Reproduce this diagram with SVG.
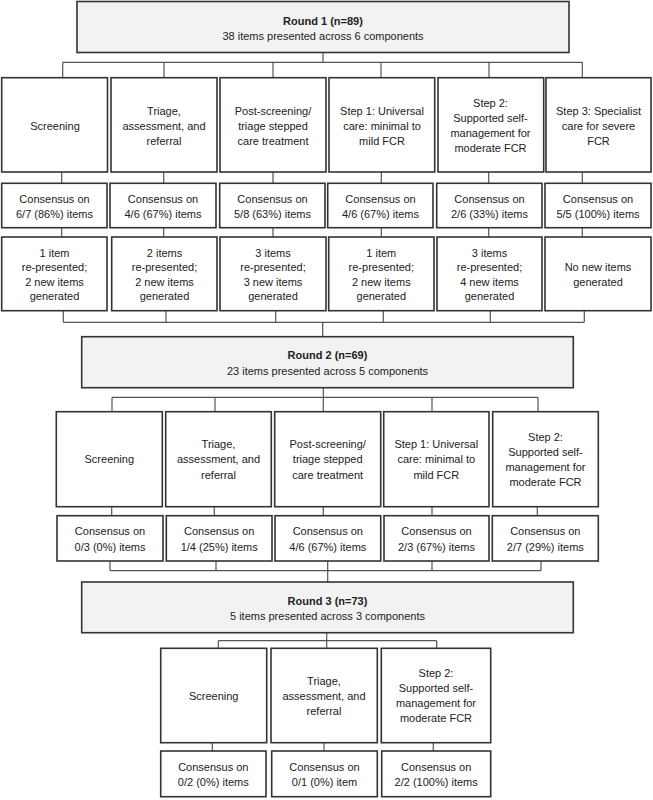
<svg xmlns="http://www.w3.org/2000/svg" width="653" height="800" viewBox="0 0 653 800">
<style>
.bx{fill:#fff;stroke:#333;stroke-width:1.6}
.hd{fill:#f2f2f2;stroke:#333;stroke-width:1.6}
.cn{fill:none;stroke:#555;stroke-width:1.2}
text{font-family:"Liberation Sans",Arial,sans-serif;font-size:11px;fill:#222;text-anchor:middle;dominant-baseline:central}
.b{font-weight:bold}
</style>
<rect width="653" height="800" fill="#fff"/>
<g id="connectors">
<path class="cn" d="M323 52.5V62.3M62.7 62.3H582.3M62.7 62.3V77.7M164 62.3V77.7M273 62.3V77.7M381 62.3V77.7M489 62.3V77.7M582.3 62.3V77.7"/>
<path class="cn" d="M61.7 172V183.3M163.7 172V183.3M273 172V183.3M381.3 172V183.3M488.7 172V183.3M582.3 172V183.3"/>
<path class="cn" d="M61.7 227.7V237M163.7 227.7V237M273 227.7V237M381.3 227.7V237M488.7 227.7V237M582.3 227.7V237"/>
<path class="cn" d="M63.3 310.7V322.3M166 310.7V322.3M275.7 310.7V322.3M383.3 310.7V322.3M490.3 310.7V322.3M584.3 310.7V322.3M63.3 322.3H584.3M322.7 322.3V336.7"/>
<path class="cn" d="M323.3 387.7V397.3M112 397.3H538M112 397.3V411.7M215 397.3V411.7M323.3 397.3V411.7M432 397.3V411.7M538 397.3V411.7"/>
<path class="cn" d="M111.7 506.7V515.7M214.3 506.7V515.7M323.3 506.7V515.7M432 506.7V515.7M537.3 506.7V515.7"/>
<path class="cn" d="M110 561V570.7M216 561V570.7M327.7 561V582M432 561V570.7M541 561V570.7M110 570.7H541"/>
<path class="cn" d="M326.7 632.7V640.7M218.3 640.7H436.7M218.3 640.7V648.3M326.7 640.7V648.3M436.7 640.7V648.3"/>
<path class="cn" d="M212.3 742.7V751M324 742.7V751M433.3 742.7V751"/>
</g>
<g id="round1">
<rect class="hd" x="77" y="1.5" width="492" height="51"/>
<text class="b" x="323" y="20.7">Round 1 (n=89)</text>
<text x="323" y="35.5">38 items presented across 6 components</text>
</g>
<g id="r1-screening"><rect class="bx" x="1.7" y="77.7" width="105.8" height="94.3"/><text x="55" y="125.7">Screening</text></g>
<g id="r1-triage"><rect class="bx" x="111" y="77.7" width="106" height="94.3"/><text x="164" y="111">Triage,</text><text x="164" y="125.7">assessment, and</text><text x="164" y="140.7">referral</text></g>
<g id="r1-post"><rect class="bx" x="220" y="77.7" width="106" height="94.3"/><text x="273" y="111">Post-screening/</text><text x="273" y="125.7">triage stepped</text><text x="273" y="140.7">care treatment</text></g>
<g id="r1-step1"><rect class="bx" x="329" y="77.7" width="105.7" height="94.3"/><text x="382" y="110.7">Step 1: Universal</text><text x="382" y="125.5">care: minimal to</text><text x="382" y="140.7">mild FCR</text></g>
<g id="r1-step2"><rect class="bx" x="438" y="77.7" width="105.7" height="94.3"/><text x="490.5" y="103.3">Step 2:</text><text x="490.5" y="118">Supported self-</text><text x="490.5" y="133">management for</text><text x="490.5" y="148">moderate FCR</text></g>
<g id="r1-step3"><rect class="bx" x="546" y="77.7" width="105" height="94.3"/><text x="598.5" y="110.7">Step 3: Specialist</text><text x="598.5" y="125.5">care for severe</text><text x="598.5" y="140.7">FCR</text></g>
<g id="r1-c1"><rect class="bx" x="1.7" y="183.3" width="105.3" height="44.4"/><text x="54.5" y="198.7">Consensus on</text><text x="54.5" y="213.7">6/7 (86%) items</text></g>
<g id="r1-c2"><rect class="bx" x="110" y="183.3" width="106" height="44.4"/><text x="163" y="198.7">Consensus on</text><text x="163" y="213.7">4/6 (67%) items</text></g>
<g id="r1-c3"><rect class="bx" x="219.7" y="183.3" width="105.3" height="44.4"/><text x="272.5" y="198.7">Consensus on</text><text x="272.5" y="213.7">5/8 (63%) items</text></g>
<g id="r1-c4"><rect class="bx" x="327.7" y="183.3" width="105.3" height="44.4"/><text x="380.5" y="198.7">Consensus on</text><text x="380.5" y="213.7">4/6 (67%) items</text></g>
<g id="r1-c5"><rect class="bx" x="436.7" y="183.3" width="105.3" height="44.4"/><text x="489.5" y="198.7">Consensus on</text><text x="489.5" y="213.7">2/6 (33%) items</text></g>
<g id="r1-c6"><rect class="bx" x="545" y="183.3" width="106" height="44.4"/><text x="598" y="198.7">Consensus on</text><text x="598" y="213.7">5/5 (100%) items</text></g>
<g id="r1-n1"><rect class="bx" x="1.7" y="237" width="105.3" height="73.7"/><text x="54.5" y="253">1 item</text><text x="54.5" y="267">re-presented;</text><text x="54.5" y="281.7">2 new items</text><text x="54.5" y="296.3">generated</text></g>
<g id="r1-n2"><rect class="bx" x="111.7" y="237" width="105.3" height="73.7"/><text x="164.5" y="253">2 items</text><text x="164.5" y="267">re-presented;</text><text x="164.5" y="281.7">2 new items</text><text x="164.5" y="296.3">generated</text></g>
<g id="r1-n3"><rect class="bx" x="220" y="237" width="106" height="73.7"/><text x="273" y="253">3 items</text><text x="273" y="267">re-presented;</text><text x="273" y="281.7">3 new items</text><text x="273" y="296.3">generated</text></g>
<g id="r1-n4"><rect class="bx" x="328.7" y="237" width="105.3" height="73.7"/><text x="381.3" y="253">1 item</text><text x="381.3" y="267">re-presented;</text><text x="381.3" y="281.7">2 new items</text><text x="381.3" y="296.3">generated</text></g>
<g id="r1-n5"><rect class="bx" x="437" y="237" width="105" height="73.7"/><text x="489.5" y="253">3 items</text><text x="489.5" y="267">re-presented;</text><text x="489.5" y="281.7">4 new items</text><text x="489.5" y="296.3">generated</text></g>
<g id="r1-n6"><rect class="bx" x="545" y="237" width="106" height="73.7"/><text x="598" y="267">No new items</text><text x="598" y="281.7">generated</text></g>
<g id="round2">
<rect class="hd" x="81.7" y="336.7" width="491.6" height="51"/>
<text class="b" x="327.5" y="354.7">Round 2 (n=69)</text>
<text x="327.5" y="370.7">23 items presented across 5 components</text>
</g>
<g id="r2-screening"><rect class="bx" x="56.3" y="411.7" width="106" height="95"/><text x="109.3" y="459.3">Screening</text></g>
<g id="r2-triage"><rect class="bx" x="165.7" y="411.7" width="105.6" height="95"/><text x="218.5" y="444.3">Triage,</text><text x="218.5" y="459.3">assessment, and</text><text x="218.5" y="474.7">referral</text></g>
<g id="r2-post"><rect class="bx" x="274.7" y="411.7" width="106" height="95"/><text x="327.7" y="444.3">Post-screening/</text><text x="327.7" y="459.3">triage stepped</text><text x="327.7" y="474.7">care treatment</text></g>
<g id="r2-step1"><rect class="bx" x="383.7" y="411.7" width="105.3" height="95"/><text x="436.3" y="444.3">Step 1: Universal</text><text x="436.3" y="459.3">care: minimal to</text><text x="436.3" y="474.7">mild FCR</text></g>
<g id="r2-step2"><rect class="bx" x="492.7" y="411.7" width="105.6" height="95"/><text x="545.5" y="437.3">Step 2:</text><text x="545.5" y="452">Supported self-</text><text x="545.5" y="467">management for</text><text x="545.5" y="482.3">moderate FCR</text></g>
<g id="r2-c1"><rect class="bx" x="57" y="515.7" width="106" height="45.3"/><text x="110" y="531.3">Consensus on</text><text x="110" y="546.7">0/3 (0%) items</text></g>
<g id="r2-c2"><rect class="bx" x="166.3" y="515.7" width="105.7" height="45.3"/><text x="219.2" y="531.3">Consensus on</text><text x="219.2" y="546.7">1/4 (25%) items</text></g>
<g id="r2-c3"><rect class="bx" x="275" y="515.7" width="105.7" height="45.3"/><text x="327.8" y="531.3">Consensus on</text><text x="327.8" y="546.7">4/6 (67%) items</text></g>
<g id="r2-c4"><rect class="bx" x="384" y="515.7" width="105" height="45.3"/><text x="436.5" y="531.3">Consensus on</text><text x="436.5" y="546.7">2/3 (67%) items</text></g>
<g id="r2-c5"><rect class="bx" x="492.3" y="515.7" width="106" height="45.3"/><text x="545.3" y="531.3">Consensus on</text><text x="545.3" y="546.7">2/7 (29%) items</text></g>
<g id="round3">
<rect class="hd" x="81.7" y="582" width="491.6" height="50.7"/>
<text class="b" x="327.5" y="600.7">Round 3 (n=73)</text>
<text x="327.5" y="615.7">5 items presented across 3 components</text>
</g>
<g id="r3-screening"><rect class="bx" x="160.7" y="648.3" width="106" height="94.4"/><text x="213.7" y="696">Screening</text></g>
<g id="r3-triage"><rect class="bx" x="271" y="648.3" width="106.3" height="94.4"/><text x="324" y="680.7">Triage,</text><text x="324" y="696">assessment, and</text><text x="324" y="711">referral</text></g>
<g id="r3-step2"><rect class="bx" x="381.3" y="648.3" width="109.4" height="94.4"/><text x="436" y="673.3">Step 2:</text><text x="436" y="688.3">Supported self-</text><text x="436" y="703.3">management for</text><text x="436" y="718.3">moderate FCR</text></g>
<g id="r3-c1"><rect class="bx" x="160.7" y="751" width="105.3" height="45.7"/><text x="213.3" y="767">Consensus on</text><text x="213.3" y="781.7">0/2 (0%) items</text></g>
<g id="r3-c2"><rect class="bx" x="271.7" y="751" width="105.6" height="45.7"/><text x="324.5" y="767">Consensus on</text><text x="324.5" y="781.7">0/1 (0%) item</text></g>
<g id="r3-c3"><rect class="bx" x="381.7" y="751" width="109" height="45.7"/><text x="436.2" y="767">Consensus on</text><text x="436.2" y="781.7">2/2 (100%) items</text></g>
</svg>
